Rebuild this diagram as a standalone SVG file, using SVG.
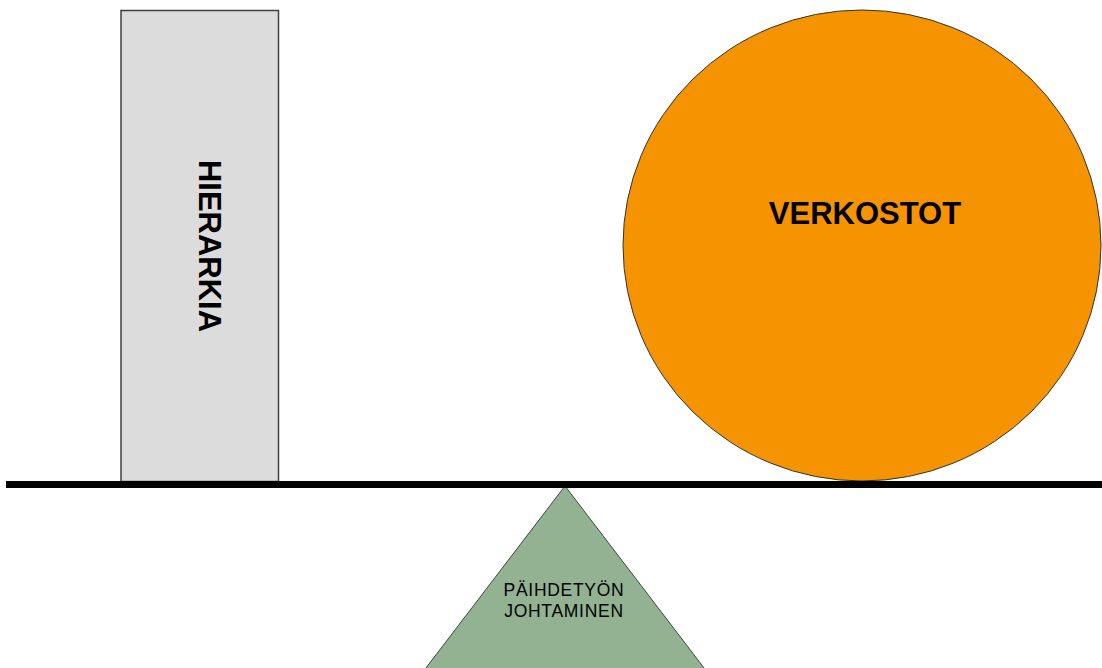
<svg xmlns="http://www.w3.org/2000/svg" width="1102" height="668" viewBox="0 0 1102 668">
  <style>
    .lbl { font-family: "Liberation Sans", Arial, sans-serif; fill: #000; text-anchor: middle; }
    .big { font-size: 31px; font-weight: bold; }
    .small { font-size: 17.5px; letter-spacing: 0.7px; }
  </style>
  <rect x="0" y="0" width="1102" height="668" fill="#ffffff"/>
  <g id="hierarkia">
    <rect x="121" y="10.5" width="157.5" height="471" fill="#dcdcdc" stroke="#404040" stroke-width="1.5"/>
    <text class="lbl big" transform="translate(199,246) rotate(90)" x="0" y="0">HIERARKIA</text>
  </g>
  <g id="verkostot">
    <ellipse cx="862" cy="245.5" rx="239" ry="235.5" fill="#f59400" stroke="#333" stroke-width="1"/>
    <text class="lbl big" x="865" y="224">VERKOSTOT</text>
  </g>
  <g id="johtaminen">
    <polygon points="565,486 426,668 704,668 740,715 390,715" fill="#92b291" stroke="none"/>
    <polygon points="565,486 390,715 740,715" fill="#92b291" stroke="#3a4a3a" stroke-width="1"/>
    <text class="lbl small" x="564" y="595.5">PÄIHDETYÖN</text>
    <text class="lbl small" x="564" y="616.5">JOHTAMINEN</text>
  </g>
  <g id="connectors">
    <rect x="6" y="481" width="1096" height="7" fill="#000"/>
  </g>
</svg>
